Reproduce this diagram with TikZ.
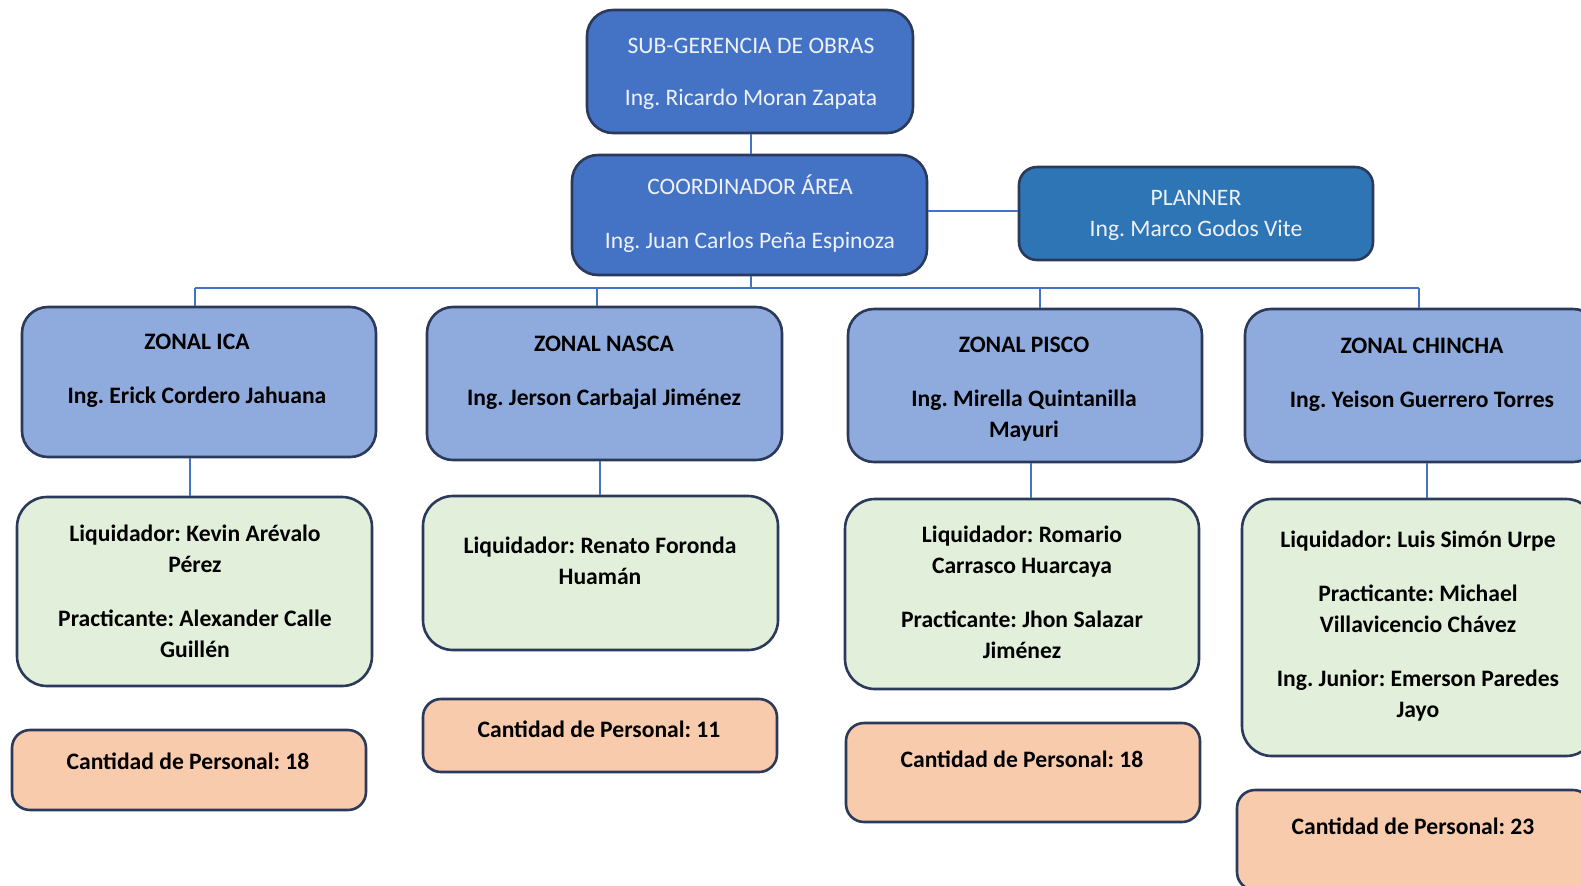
\documentclass[tikz,border=0pt]{standalone}
\usepackage{fontspec}
\setmainfont{Carlito}
\usetikzlibrary{fit}
\definecolor{bdr}{HTML}{2B3A5A}
\definecolor{dkblue}{HTML}{4472C4}
\definecolor{plblue}{HTML}{2E75B6}
\definecolor{zblue}{HTML}{8FAADC}
\definecolor{gfill}{HTML}{E2EFDA}
\definecolor{ofill}{HTML}{F8CBAD}
\definecolor{conn}{HTML}{4472C4}
\definecolor{wtxt}{HTML}{EEF2F8}
\begin{document}
\frenchspacing
\begin{tikzpicture}[x=0.5pt,y=-0.5pt,
  boxbase/.style={draw=bdr, line width=1.3pt, inner sep=0pt},
  topbox/.style={boxbase, fill=dkblue, rounded corners=13pt},
  planbox/.style={boxbase, fill=plblue, rounded corners=9pt},
  zbox/.style={boxbase, fill=zblue, rounded corners=13pt},
  gbox/.style={boxbase, fill=gfill, rounded corners=15pt},
  obox/.style={boxbase, fill=ofill, rounded corners=9pt},
  wtext/.style={inner sep=0pt, align=center, text=wtxt, font=\fontsize{11.8}{15.5}\selectfont},
  btext/.style={inner sep=0pt, align=center, text=black, font=\fontsize{11.8}{15.5}\selectfont\bfseries},
  link/.style={draw=conn, line width=1pt}]
\useasboundingbox (0,0) rectangle (1581,885);

% top level boxes
\node[topbox, fit={(587,10)(913,133)}] (sub) {};
\node[topbox, fit={(572,155)(927,275)}] (coord) {};
\node[planbox, fit={(1019,167)(1373,260)}] (plan) {};

% zonal boxes
\node[zbox, fit={(22,307)(376,457)}] (icaz) {};
\node[zbox, fit={(427,307)(782,460)}] (nasz) {};
\node[zbox, fit={(848,309)(1202,462)}] (pisz) {};
\node[zbox, fit={(1245,309)(1599,462)}] (chiz) {};

% green boxes
\node[gbox, fit={(17,497)(372,686)}] (icag) {};
\node[gbox, fit={(423,496)(778,650)}] (nasg) {};
\node[gbox, fit={(845,499)(1199,689)}] (pisg) {};
\node[gbox, fit={(1242,499)(1596,756)}] (chig) {};

% orange boxes
\node[obox, fit={(12,730)(366,810)}] (icao) {};
\node[obox, fit={(423,699)(777,772)}] (naso) {};
\node[obox, fit={(846,723)(1200,822)}] (piso) {};
\node[obox, fit={(1237,790)(1591,890)}] (chio) {};

% texts
\node[wtext] (subT) at (751,73) {\strut SUB-GERENCIA DE OBRAS\\[10.5pt]\strut Ing. Ricardo Moran Zapata};
\node[wtext] (coordT) at (750,215.5) {\strut COORDINADOR ÁREA\\[11.5pt]\strut Ing. Juan Carlos Peña Espinoza};
\node[wtext] (planT) at (1196,215) {\strut PLANNER\\\strut Ing. Marco Godos Vite};

\node[btext] (icazT) at (197,370) {\strut ZONAL ICA\\[11.5pt]\strut Ing. Erick Cordero Jahuana};
\node[btext] (naszT) at (604,372) {\strut ZONAL NASCA\\[11.5pt]\strut Ing. Jerson Carbajal Jiménez};
\node[btext] (piszT) at (1024,388.5) {\strut ZONAL PISCO\\[11.5pt]\strut Ing. Mirella Quintanilla\\\strut Mayuri};
\node[btext] (chizT) at (1422,374.5) {\strut ZONAL CHINCHA\\[11.5pt]\strut Ing. Yeison Guerrero Torres};

\node[btext] (icagT) at (195,593) {\strut Liquidador: Kevin Arévalo\\\strut Pérez\\[11.5pt]\strut Practicante: Alexander Calle\\\strut Guillén};
\node[btext] (nasgT) at (600,562.5) {\strut Liquidador: Renato Foronda\\\strut Huamán};
\node[btext] (pisgT) at (1022,594.5) {\strut Liquidador: Romario\\\strut Carrasco Huarcaya\\[11.5pt]\strut Practicante: Jhon Salazar\\\strut Jiménez};
\node[btext] (chigT) at (1418,626) {\strut Liquidador: Luis Simón Urpe\\[11.5pt]\strut Practicante: Michael\\\strut Villavicencio Chávez\\[11.5pt]\strut Ing. Junior: Emerson Paredes\\\strut Jayo};

\node[btext] (icaoT) at (188,763) {\strut Cantidad de Personal: 18};
\node[btext] (nasoT) at (599,731) {\strut Cantidad de Personal: 11};
\node[btext] (pisoT) at (1022,761) {\strut Cantidad de Personal: 18};
\node[btext] (chioT) at (1413,828) {\strut Cantidad de Personal: 23};

% connectors
\coordinate (bus) at (751,288);
\coordinate (d1) at (195,288);
\coordinate (d2) at (597,288);
\coordinate (d3) at (1040,288);
\coordinate (d4) at (1419,288);
\coordinate (v1) at (190,0);
\coordinate (v2) at (600,0);
\coordinate (v3) at (1031,0);
\coordinate (v4) at (1427,0);
\coordinate (h1) at (0,211);

\draw[link] (sub.south -| bus) -- (coord.north -| bus);
\draw[link] (coord.east |- h1) -- (plan.west |- h1);
\draw[link] (coord.south -| bus) -- (bus);
\draw[link] (d1) -- (d4);
\draw[link] (d1) -- (d1 |- icaz.north);
\draw[link] (d2) -- (d2 |- nasz.north);
\draw[link] (d3) -- (d3 |- pisz.north);
\draw[link] (d4) -- (d4 |- chiz.north);
\draw[link] (icaz.south -| v1) -- (icag.north -| v1);
\draw[link] (nasz.south -| v2) -- (nasg.north -| v2);
\draw[link] (pisz.south -| v3) -- (pisg.north -| v3);
\draw[link] (chiz.south -| v4) -- (chig.north -| v4);
\end{tikzpicture}
\end{document}
